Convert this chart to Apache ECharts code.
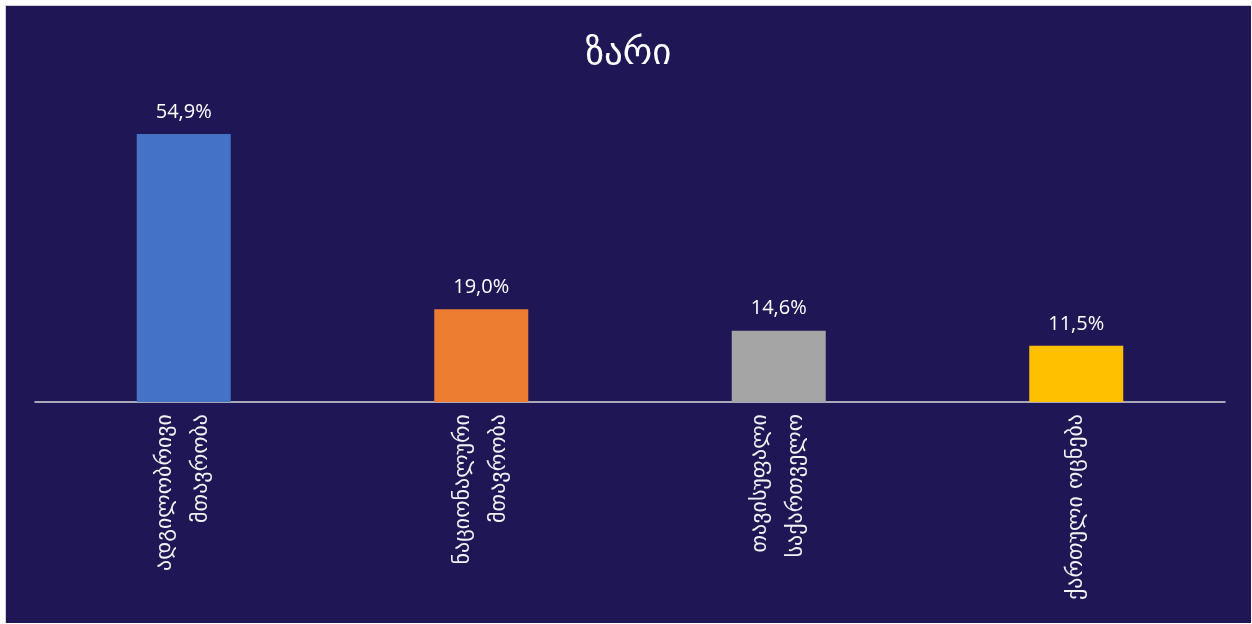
<!DOCTYPE html>
<html>
<head>
<meta charset="utf-8">
<script src="https://cdn.jsdelivr.net/npm/echarts@6/dist/echarts.min.js"></script>
<style>
  html, body { margin: 0; padding: 0; background: #ffffff; }
  #main { position: absolute; left: 5px; top: 5px; width: 1246px; height: 618px; border-left: 1px solid #d0d0d0; border-top: 1px solid #d0d0d0; box-sizing: border-box; }
</style>
</head>
<body>
<div id="main"></div>
<script>
// მონაცემები
var categories = ['ადგილობრივი\nმთავრობა', 'ნაციონალური\nმთავრობა', 'თავისუფალი\nსაქართველო', 'ქართული ოცნება'];
var values = [54.9, 19.0, 14.6, 11.5];
var colors = ['#4472c4', '#ed7d31', '#a5a5a5', '#ffc000'];

var chart = echarts.init(document.getElementById('main'));
var option = {
  backgroundColor: '#1f1656',
  title: {
    text: 'ზარი',
    left: 'center',
    top: 25,
    textStyle: { color: '#ffffff', fontSize: 37, fontWeight: 'normal', fontFamily: 'DejaVu Sans' }
  },
  grid: { left: 29, right: 26, top: 103, bottom: 221 },
  xAxis: {
    type: 'category',
    data: categories,
    axisLine: { lineStyle: { color: '#d9d9d9', width: 1.5 } },
    axisTick: { show: false },
    axisLabel: {
      rotate: 90,
      interval: 0,
      margin: 12,
      color: '#f2f2f2',
      fontSize: 22,
      lineHeight: 36,
      fontFamily: 'DejaVu Sans'
    }
  },
  yAxis: {
    type: 'value',
    min: 0,
    max: 60,
    show: false
  },
  series: [{
    type: 'bar',
    barWidth: '31.6%',
    data: values.map(function (v, i) {
      return { value: v, itemStyle: { color: colors[i] } };
    }),
    label: {
      show: true,
      position: 'top',
      distance: 12,
      color: '#ffffff',
      fontSize: 20,
      fontFamily: 'Open Sans',
      formatter: function (p) { return p.value.toFixed(1).replace('.', ',') + '%'; }
    }
  }]
};
chart.setOption(option);
</script>
</body>
</html>
